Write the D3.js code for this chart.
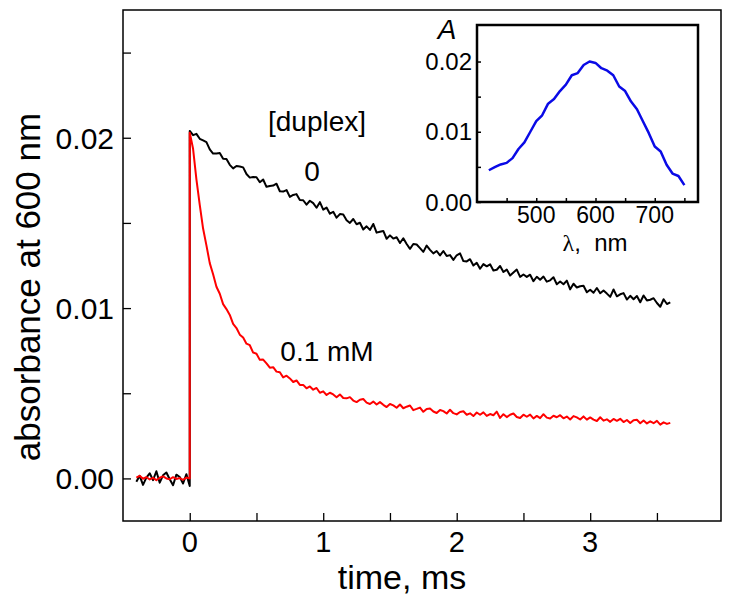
<!DOCTYPE html>
<html>
<head>
<meta charset="utf-8">
<script src="https://cdn.jsdelivr.net/npm/d3@7"></script>
<style>
  html, body { margin: 0; padding: 0; background: #fff; }
  svg text { font-family: "Liberation Sans", Arial, Helvetica, sans-serif; fill: #000; }
</style>
</head>
<body>
<svg id="chart" width="729" height="599"></svg>
<script>
// ---------------- data ----------------
// pre-trigger baseline, t = -0.4 .. 0 ms (step 0.025 ms)
const baselineStart = -0.4;
const baselineStep = 0.025;
const baselineNoDuplex = [-0.00020, 0.00015, -0.00038, 0.00005, 0.00030, -0.00010, 0.00042, -0.00025, 0.00018, 0.00035, -0.00005, -0.00040, 0.00022, 0.00008, -0.00030, 0.00025, -0.00045];
const baselineDuplex = [0.00005, 0.00015, -0.00002, 0.00008, -0.00006, 0.00003, -0.00010, 0.00004, 0.00012, 0.00000, -0.00005, 0.00007, -0.00003, 0.00002, -0.00008, 0.00005, 0.00000];

// decay after the flash, t = 0 .. 3.6 ms (step 0.025 ms)
const decayStart = 0;
const decayStep = 0.025;
const decayNoDuplex = [
  0.02040, 0.02015, 0.02023, 0.01994, 0.01984, 0.01974, 0.01932, 0.01907,
  0.01908, 0.01910, 0.01876, 0.01875, 0.01841, 0.01820, 0.01834, 0.01831,
  0.01826, 0.01787, 0.01766, 0.01770, 0.01768, 0.01739, 0.01755, 0.01712,
  0.01717, 0.01719, 0.01730, 0.01686, 0.01684, 0.01693, 0.01653, 0.01664,
  0.01669, 0.01635, 0.01633, 0.01607, 0.01630, 0.01616, 0.01589, 0.01622,
  0.01578, 0.01590, 0.01554, 0.01565, 0.01531, 0.01552, 0.01549, 0.01516,
  0.01500, 0.01523, 0.01492, 0.01501, 0.01461, 0.01480, 0.01459, 0.01494,
  0.01443, 0.01448, 0.01453, 0.01407, 0.01427, 0.01408, 0.01416, 0.01382,
  0.01410, 0.01376, 0.01348, 0.01376, 0.01373, 0.01352, 0.01330, 0.01367,
  0.01342, 0.01321, 0.01335, 0.01309, 0.01335, 0.01306, 0.01311, 0.01283,
  0.01310, 0.01321, 0.01276, 0.01274, 0.01287, 0.01250, 0.01266, 0.01231,
  0.01258, 0.01245, 0.01257, 0.01221, 0.01225, 0.01247, 0.01212, 0.01226,
  0.01191, 0.01209, 0.01226, 0.01183, 0.01197, 0.01183, 0.01196, 0.01158,
  0.01184, 0.01166, 0.01185, 0.01155, 0.01163, 0.01181, 0.01140, 0.01156,
  0.01140, 0.01161, 0.01110, 0.01143, 0.01121, 0.01128, 0.01131, 0.01093,
  0.01108, 0.01090, 0.01118, 0.01087, 0.01103, 0.01085, 0.01066, 0.01109,
  0.01069, 0.01081, 0.01088, 0.01050, 0.01072, 0.01052, 0.01071, 0.01034,
  0.01074, 0.01045, 0.01049, 0.01058, 0.01030, 0.01008, 0.01052, 0.01024,
  0.01033
];
const decayDuplex = [
  0.02030, 0.01935, 0.01756, 0.01606, 0.01467, 0.01368, 0.01264, 0.01199,
  0.01125, 0.01084, 0.01023, 0.00994, 0.00960, 0.00907, 0.00883, 0.00844,
  0.00827, 0.00791, 0.00782, 0.00739, 0.00732, 0.00696, 0.00698, 0.00675,
  0.00650, 0.00653, 0.00627, 0.00623, 0.00593, 0.00603, 0.00587, 0.00566,
  0.00575, 0.00549, 0.00549, 0.00529, 0.00540, 0.00521, 0.00531, 0.00503,
  0.00511, 0.00490, 0.00503, 0.00493, 0.00477, 0.00493, 0.00472, 0.00470,
  0.00477, 0.00457, 0.00448, 0.00462, 0.00466, 0.00445, 0.00437, 0.00451,
  0.00434, 0.00448, 0.00432, 0.00419, 0.00437, 0.00429, 0.00415, 0.00434,
  0.00412, 0.00421, 0.00428, 0.00401, 0.00408, 0.00416, 0.00391, 0.00408,
  0.00410, 0.00393, 0.00384, 0.00402, 0.00395, 0.00381, 0.00403, 0.00383,
  0.00376, 0.00390, 0.00394, 0.00374, 0.00382, 0.00366, 0.00387, 0.00374,
  0.00388, 0.00367, 0.00378, 0.00371, 0.00392, 0.00355, 0.00377, 0.00360,
  0.00374, 0.00381, 0.00361, 0.00355, 0.00374, 0.00362, 0.00375, 0.00352,
  0.00367, 0.00354, 0.00377, 0.00357, 0.00352, 0.00368, 0.00359, 0.00371,
  0.00353, 0.00363, 0.00346, 0.00366, 0.00358, 0.00346, 0.00364, 0.00345,
  0.00358, 0.00345, 0.00337, 0.00359, 0.00339, 0.00347, 0.00332, 0.00349,
  0.00338, 0.00350, 0.00331, 0.00343, 0.00325, 0.00342, 0.00344, 0.00324,
  0.00340, 0.00323, 0.00335, 0.00324, 0.00338, 0.00316, 0.00329, 0.00320,
  0.00326
];

// inset: transient absorption spectrum
const wavelengths = [420, 430, 440, 450, 460, 470, 480, 490, 500, 510, 520, 530, 540, 550, 560, 570, 580, 590, 600, 610, 620, 630, 640, 650, 660, 670, 680, 690, 700, 710, 720, 730, 740, 750];
const spectrum = [0.00452, 0.00495, 0.00535, 0.00557, 0.00625, 0.00755, 0.00850, 0.01000, 0.01150, 0.01235, 0.01400, 0.01465, 0.01580, 0.01670, 0.01805, 0.01835, 0.01950, 0.02000, 0.01980, 0.01905, 0.01870, 0.01805, 0.01645, 0.01580, 0.01430, 0.01320, 0.01150, 0.00980, 0.00790, 0.00720, 0.00530, 0.00405, 0.00370, 0.00240];

// axis ticks and labels
const mainXMajor = [0, 1, 2, 3];
const mainXMinor = [0.5, 1.5, 2.5, 3.5];
const mainYMajor = [0.00, 0.01, 0.02];
const mainYMinor = [0.005, 0.015, 0.025];
const insetXMajor = [500, 600, 700];
const insetXMinor = [450, 550, 650, 750];
const insetYMajor = [0.00, 0.01, 0.02];
const insetYMinor = [0.005, 0.015];

const labels = {
  x: "time, ms",
  y: "absorbance at 600 nm",
  legendTitle: "[duplex]",
  noDuplex: "0",
  duplex: "0.1 mM",
  insetY: "A",
  insetXSymbol: "\u03bb",
  insetXUnit: ",  nm"
};

// ---------------- build series ----------------
function series(baseline, decay) {
  const pts = baseline.map((v, i) => [baselineStart + i * baselineStep, v]);
  decay.forEach((v, i) => pts.push([decayStart + i * decayStep, v]));
  return pts;
}
const seriesNoDuplex = series(baselineNoDuplex, decayNoDuplex);
const seriesDuplex = series(baselineDuplex, decayDuplex);

// ---------------- drawing ----------------
const svg = d3.select("#chart");

const plot = { left: 123, right: 721, top: 10, bottom: 521 };
const x = d3.scaleLinear().domain([-0.5, 3.98]).range([plot.left, plot.right]);
const y = d3.scaleLinear().domain([-0.0025, 0.0275]).range([plot.bottom, plot.top]);

// frame
svg.append("rect")
  .attr("x", plot.left).attr("y", plot.top)
  .attr("width", plot.right - plot.left).attr("height", plot.bottom - plot.top)
  .attr("fill", "none").attr("stroke", "#000").attr("stroke-width", 1.5);

// x axis (inward ticks)
svg.append("g").attr("transform", `translate(0,${plot.bottom})`)
  .call(d3.axisTop(x).tickValues(mainXMajor.concat(mainXMinor)).tickSize(8).tickFormat(""))
  .call(g => g.select(".domain").remove())
  .call(g => g.selectAll("line").attr("stroke-width", 1.3));
svg.append("g").selectAll("text").data(mainXMajor).join("text")
  .attr("x", d => x(d)).attr("y", 552)
  .attr("text-anchor", "middle").attr("font-size", 29)
  .text(d => d3.format("d")(d));

// y axis (inward ticks)
svg.append("g").attr("transform", `translate(${plot.left},0)`)
  .call(d3.axisRight(y).tickValues(mainYMajor.concat(mainYMinor)).tickSize(8).tickFormat(""))
  .call(g => g.select(".domain").remove())
  .call(g => g.selectAll("line").attr("stroke-width", 1.3));
svg.append("g").selectAll("text").data(mainYMajor).join("text")
  .attr("x", 114).attr("y", d => y(d)).attr("dy", "0.36em")
  .attr("text-anchor", "end").attr("font-size", 30)
  .text(d => d3.format(".2f")(d));

// axis titles
svg.append("text").attr("x", 402).attr("y", 589)
  .attr("text-anchor", "middle").attr("font-size", 34).text(labels.x);
svg.append("text").attr("transform", "translate(40,287) rotate(-90)")
  .attr("text-anchor", "middle").attr("font-size", 35).text(labels.y);

// curves
const line = d3.line().x(d => x(d[0])).y(d => y(d[1]));
svg.append("path").datum(seriesNoDuplex)
  .attr("d", line).attr("fill", "none").attr("stroke", "#000").attr("stroke-width", 2)
  .attr("stroke-linejoin", "round");
svg.append("path").datum(seriesDuplex)
  .attr("d", line).attr("fill", "none").attr("stroke", "#f00").attr("stroke-width", 2)
  .attr("stroke-linejoin", "round");

// annotations
svg.append("text").attr("x", 317).attr("y", 131).attr("text-anchor", "middle")
  .attr("font-size", 28).text(labels.legendTitle);
svg.append("text").attr("x", 312).attr("y", 181).attr("text-anchor", "middle")
  .attr("font-size", 28).text(labels.noDuplex);
svg.append("text").attr("x", 327).attr("y", 361).attr("text-anchor", "middle")
  .attr("font-size", 28).text(labels.duplex);

// ---------------- inset ----------------
const inset = { left: 477, right: 698, top: 25, bottom: 202 };
const ix = d3.scaleLinear().domain([400, 773]).range([inset.left, inset.right]);
const iy = d3.scaleLinear().domain([0, 0.0252]).range([inset.bottom, inset.top]);

svg.append("rect")
  .attr("x", inset.left).attr("y", inset.top)
  .attr("width", inset.right - inset.left).attr("height", inset.bottom - inset.top)
  .attr("fill", "#fff").attr("stroke", "#000").attr("stroke-width", 2.5);

svg.append("g").attr("transform", `translate(0,${inset.bottom})`)
  .call(d3.axisTop(ix).tickValues(insetXMajor.concat(insetXMinor)).tickSize(4).tickFormat(""))
  .call(g => g.select(".domain").remove())
  .call(g => g.selectAll("line").attr("stroke-width", 1.5));
svg.append("g").attr("transform", `translate(${inset.left},0)`)
  .call(d3.axisRight(iy).tickValues(insetYMajor.concat(insetYMinor)).tickSize(4).tickFormat(""))
  .call(g => g.select(".domain").remove())
  .call(g => g.selectAll("line").attr("stroke-width", 1.5));

svg.append("g").selectAll("text").data(insetXMajor).join("text")
  .attr("x", d => ix(d)).attr("y", 223)
  .attr("text-anchor", "middle").attr("font-size", 23)
  .text(d => d);
svg.append("g").selectAll("text").data(insetYMajor).join("text")
  .attr("x", 472).attr("y", d => iy(d)).attr("dy", "0.36em")
  .attr("text-anchor", "end").attr("font-size", 24)
  .text(d => d3.format(".2f")(d));

svg.append("text").attr("x", 447).attr("y", 39).attr("text-anchor", "middle")
  .attr("font-size", 28).attr("font-style", "italic").text(labels.insetY);
const lam = svg.append("text").attr("x", 595).attr("y", 251).attr("text-anchor", "middle")
  .attr("font-size", 24).attr("xml:space", "preserve").style("white-space", "pre");
lam.append("tspan").style("font-family", "'Liberation Serif', 'Times New Roman', serif").text(labels.insetXSymbol);
lam.append("tspan").text(labels.insetXUnit);

svg.append("path").datum(wavelengths.map((w, i) => [w, spectrum[i]]))
  .attr("d", d3.line().x(d => ix(d[0])).y(d => iy(d[1])))
  .attr("fill", "none").attr("stroke", "#0a0ae6").attr("stroke-width", 2.5)
  .attr("stroke-linejoin", "round");
</script>
</body>
</html>
